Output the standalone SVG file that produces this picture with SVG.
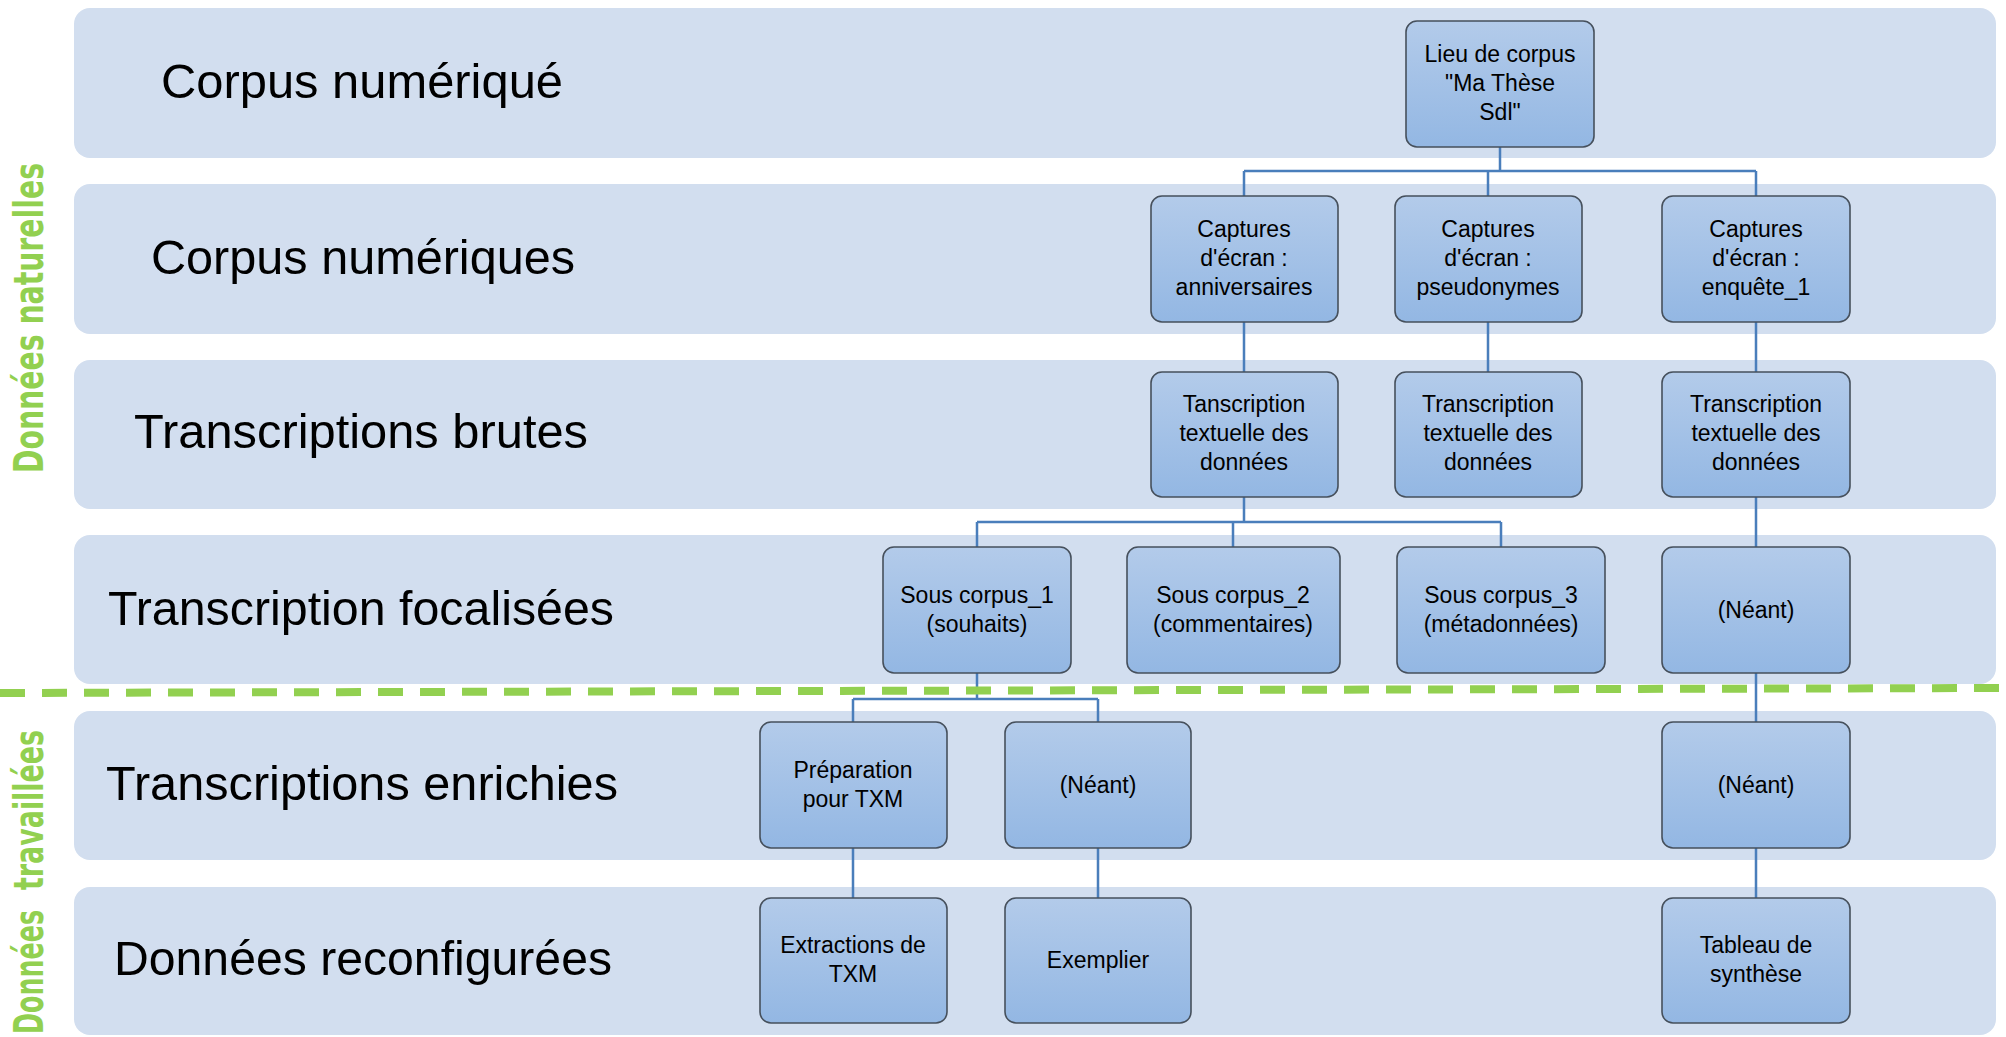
<svg xmlns="http://www.w3.org/2000/svg" width="2006" height="1037" viewBox="0 0 2006 1037">
<defs>
<linearGradient id="ng" x1="0" y1="0" x2="0" y2="1">
<stop offset="0" stop-color="#B3CBEA"/>
<stop offset="1" stop-color="#93B7E3"/>
</linearGradient>
<style>
.band{fill:#D2DEEF;}
.blab{font-family:"Liberation Sans",Arial,sans-serif;font-size:48px;fill:#000;}
.node rect{fill:url(#ng);stroke:#46505C;stroke-width:1.6;}
.node text{font-family:"Liberation Sans",Arial,sans-serif;font-size:23px;fill:#000;text-anchor:middle;}
.conn path{fill:none;stroke:#4A7EBB;stroke-width:2.5;}
.side{font-family:"DejaVu Sans",Verdana,sans-serif;font-weight:bold;font-size:40px;fill:#92D050;}
</style>
</defs>
<rect width="2006" height="1037" fill="#FFFFFF"/>
<g id="bands">
<rect class="band" x="74" y="8" width="1922" height="150" rx="16"/>
<rect class="band" x="74" y="184" width="1922" height="150" rx="16"/>
<rect class="band" x="74" y="360" width="1922" height="149" rx="16"/>
<rect class="band" x="74" y="535" width="1922" height="149" rx="16"/>
<rect class="band" x="74" y="711" width="1922" height="149" rx="16"/>
<rect class="band" x="74" y="887" width="1922" height="148" rx="16"/>
</g>
<g id="band-labels">
<text class="blab" x="161" y="98" textLength="402" lengthAdjust="spacingAndGlyphs">Corpus numériqué</text>
<text class="blab" x="151" y="274" textLength="424" lengthAdjust="spacingAndGlyphs">Corpus numériques</text>
<text class="blab" x="134" y="448" textLength="454" lengthAdjust="spacingAndGlyphs">Transcriptions brutes</text>
<text class="blab" x="108" y="625" textLength="506" lengthAdjust="spacingAndGlyphs">Transcription focalisées</text>
<text class="blab" x="106" y="800" textLength="512" lengthAdjust="spacingAndGlyphs">Transcriptions enrichies</text>
<text class="blab" x="114" y="975" textLength="498" lengthAdjust="spacingAndGlyphs">Données reconfigurées</text>
</g>
<g id="side-labels">
<text class="side" transform="translate(43,473) rotate(-90)" textLength="310" lengthAdjust="spacingAndGlyphs">Données naturelles</text>
<text class="side" transform="translate(43,1034) rotate(-90)" textLength="124" lengthAdjust="spacingAndGlyphs">Données</text>
<text class="side" transform="translate(43,890) rotate(-90)" textLength="160" lengthAdjust="spacingAndGlyphs">travaillées</text>
</g>
<g id="connectors" class="conn">
<path d="M1500,147 V171 M1244,171 H1756 M1244,171 V196 M1488,171 V196 M1756,171 V196"/>
<path d="M1244,322 V372 M1488,322 V372 M1756,322 V372"/>
<path d="M1244,497 V522 M977,522 H1501 M977,522 V547 M1233,522 V547 M1501,522 V547 M1756,497 V547"/>
<path d="M977,673 V699 M853,699 H1098 M853,699 V722 M1098,699 V722 M1756,673 V722"/>
<path d="M853,848 V898 M1098,848 V898 M1756,848 V898"/>
</g>
<line id="separator" x1="0" y1="693" x2="2006" y2="688" stroke="#92D050" stroke-width="8" stroke-dasharray="25 17"/>
<g id="n-root" class="node"><rect x="1406" y="21" width="188" height="126" rx="11"/>
<text x="1500" y="62">Lieu de corpus</text><text x="1500" y="91">"Ma Thèse</text><text x="1500" y="120">Sdl"</text></g>
<g id="n-cap1" class="node"><rect x="1151" y="196" width="187" height="126" rx="11"/>
<text x="1244" y="237">Captures</text><text x="1244" y="266">d'écran :</text><text x="1244" y="295">anniversaires</text></g>
<g id="n-cap2" class="node"><rect x="1395" y="196" width="187" height="126" rx="11"/>
<text x="1488" y="237">Captures</text><text x="1488" y="266">d'écran :</text><text x="1488" y="295">pseudonymes</text></g>
<g id="n-cap3" class="node"><rect x="1662" y="196" width="188" height="126" rx="11"/>
<text x="1756" y="237">Captures</text><text x="1756" y="266">d'écran :</text><text x="1756" y="295">enquête_1</text></g>
<g id="n-tr1" class="node"><rect x="1151" y="372" width="187" height="125" rx="11"/>
<text x="1244" y="412">Tanscription</text><text x="1244" y="441">textuelle des</text><text x="1244" y="470">données</text></g>
<g id="n-tr2" class="node"><rect x="1395" y="372" width="187" height="125" rx="11"/>
<text x="1488" y="412">Transcription</text><text x="1488" y="441">textuelle des</text><text x="1488" y="470">données</text></g>
<g id="n-tr3" class="node"><rect x="1662" y="372" width="188" height="125" rx="11"/>
<text x="1756" y="412">Transcription</text><text x="1756" y="441">textuelle des</text><text x="1756" y="470">données</text></g>
<g id="n-sc1" class="node"><rect x="883" y="547" width="188" height="126" rx="11"/>
<text x="977" y="603">Sous corpus_1</text><text x="977" y="632">(souhaits)</text></g>
<g id="n-sc2" class="node"><rect x="1127" y="547" width="213" height="126" rx="11"/>
<text x="1233" y="603">Sous corpus_2</text><text x="1233" y="632">(commentaires)</text></g>
<g id="n-sc3" class="node"><rect x="1397" y="547" width="208" height="126" rx="11"/>
<text x="1501" y="603">Sous corpus_3</text><text x="1501" y="632">(métadonnées)</text></g>
<g id="n-neant1" class="node"><rect x="1662" y="547" width="188" height="126" rx="11"/>
<text x="1756" y="618">(Néant)</text></g>
<g id="n-prep" class="node"><rect x="760" y="722" width="187" height="126" rx="11"/>
<text x="853" y="778">Préparation</text><text x="853" y="807">pour TXM</text></g>
<g id="n-neant2" class="node"><rect x="1005" y="722" width="186" height="126" rx="11"/>
<text x="1098" y="793">(Néant)</text></g>
<g id="n-neant3" class="node"><rect x="1662" y="722" width="188" height="126" rx="11"/>
<text x="1756" y="793">(Néant)</text></g>
<g id="n-extr" class="node"><rect x="760" y="898" width="187" height="125" rx="11"/>
<text x="853" y="953">Extractions de</text><text x="853" y="982">TXM</text></g>
<g id="n-exemp" class="node"><rect x="1005" y="898" width="186" height="125" rx="11"/>
<text x="1098" y="968">Exemplier</text></g>
<g id="n-tab" class="node"><rect x="1662" y="898" width="188" height="125" rx="11"/>
<text x="1756" y="953">Tableau de</text><text x="1756" y="982">synthèse</text></g>
</svg>
